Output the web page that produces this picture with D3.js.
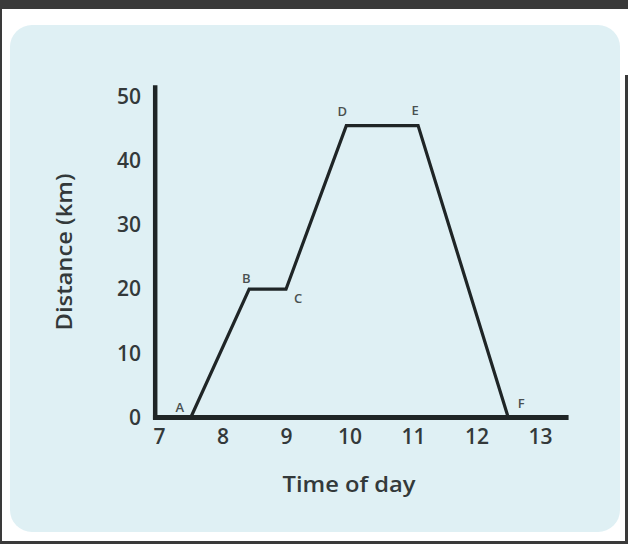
<!DOCTYPE html>
<html>
<head>
<meta charset="utf-8">
<script src="https://cdn.jsdelivr.net/npm/d3@7"></script>
<style>
  html, body { margin: 0; padding: 0; background: #ffffff; }
  svg { display: block; }
  text { font-family: "Open Sans", Lato, sans-serif; }
</style>
</head>
<body>
<svg id="chart" width="628" height="544"></svg>
<script>
// ---- data ----
const pointLabels = ["A", "B", "C", "D", "E", "F"];
const timeValues = [7.5, 8.42, 9, 9.95, 11.08, 12.5];
const distanceValues = [0, 20, 20, 45.5, 45.5, 0];
const xTicks = [7, 8, 9, 10, 11, 12, 13];
const yTicks = [0, 10, 20, 30, 40, 50];
const xTitle = "Time of day";
const yTitle = "Distance (km)";

const svg = d3.select("#chart");
const textColor = "#33393a";

// frame / background
svg.append("rect").attr("x", 0).attr("y", 0).attr("width", 628).attr("height", 544).attr("fill", "#3a3a3a");
svg.append("rect").attr("x", 2).attr("y", 9).attr("width", 623).attr("height", 532).attr("fill", "#ffffff");
svg.append("rect").attr("x", 625).attr("y", 9).attr("width", 3).attr("height", 66).attr("fill", "#ffffff");
svg.append("rect").attr("x", 10).attr("y", 25).attr("width", 610).attr("height", 507)
  .attr("rx", 22).attr("ry", 22).attr("fill", "#dff0f4");

// scales
const x = d3.scaleLinear().domain([7, 13]).range([159, 540]);
const y = d3.scaleLinear().domain([0, 50]).range([417.5, 96.7]);

// axes lines
const axisColor = "#1f2526";
svg.append("line")
  .attr("x1", x(6.94)).attr("x2", x(6.94))
  .attr("y1", y(-0.3)).attr("y2", y(51.8))
  .attr("stroke", axisColor).attr("stroke-width", 4.5);
svg.append("line")
  .attr("x1", x(6.905)).attr("x2", x(13.45))
  .attr("y1", y(0)).attr("y2", y(0))
  .attr("stroke", axisColor).attr("stroke-width", 5);

// tick labels via d3 axes
const xAxis = svg.append("g")
  .attr("transform", `translate(0, ${y(0) + 12})`)
  .call(d3.axisBottom(x).tickValues(xTicks).tickSize(0).tickPadding(0).tickFormat(d3.format("d")));
xAxis.select(".domain").remove();
xAxis.selectAll("text")
  .attr("font-size", 21).attr("font-weight", 600).attr("fill", textColor)
  .attr("font-family", "'Open Sans', sans-serif")
  .attr("dy", "0.71em");

const yAxis = svg.append("g")
  .attr("transform", `translate(141, 0)`)
  .call(d3.axisLeft(y).tickValues(yTicks).tickSize(0).tickPadding(0).tickFormat(d3.format("d")));
yAxis.select(".domain").remove();
yAxis.selectAll("text")
  .attr("font-size", 21).attr("font-weight", 600).attr("fill", textColor)
  .attr("font-family", "'Open Sans', sans-serif");

// titles
svg.append("text")
  .attr("x", 349).attr("y", 492)
  .attr("text-anchor", "middle")
  .attr("font-size", 21).attr("font-weight", 600).attr("fill", textColor)
  .attr("textLength", 133).attr("lengthAdjust", "spacingAndGlyphs")
  .text(xTitle);
svg.append("text")
  .attr("transform", "translate(72, 252) rotate(-90)")
  .attr("text-anchor", "middle")
  .attr("font-size", 21).attr("font-weight", 600).attr("fill", textColor)
  .attr("textLength", 157).attr("lengthAdjust", "spacingAndGlyphs")
  .text(yTitle);

// data line
const pts = timeValues.map((t, i) => ({ t, d: distanceValues[i], label: pointLabels[i] }));
svg.append("path")
  .datum(pts)
  .attr("d", d3.line().x(p => x(p.t)).y(p => y(p.d)))
  .attr("fill", "none")
  .attr("stroke", "#1f2526")
  .attr("stroke-width", 3.2)
  .attr("stroke-linejoin", "miter");

// point labels (offsets are styling)
const labelOffsets = {
  A: [-11, -10], B: [-3, -11], C: [12, 9], D: [-4, -14], E: [-3, -15], F: [13, -14]
};
svg.selectAll("text.pt")
  .data(pts)
  .enter().append("text")
  .attr("class", "pt")
  .attr("x", p => x(p.t) + labelOffsets[p.label][0])
  .attr("y", p => y(p.d) + labelOffsets[p.label][1])
  .attr("dy", "0.36em")
  .attr("text-anchor", "middle")
  .attr("font-size", 13).attr("font-weight", 600)
  .attr("fill", "#4a5051")
  .text(p => p.label);
</script>
</body>
</html>
